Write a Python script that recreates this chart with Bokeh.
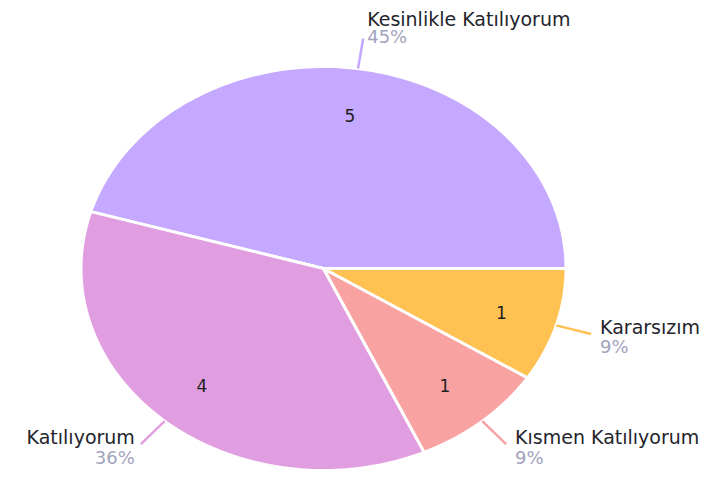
import numpy as np
from bokeh.plotting import figure
from bokeh.models import ColumnDataSource
from bokeh.core.properties import value
from bokeh.embed import file_html
from bokeh.resources import INLINE

categories = ["Kesinlikle Katılıyorum", "Katılıyorum", "Kısmen Katılıyorum", "Kararsızım"]
counts = [5, 4, 1, 1]
percent_labels = ["45%", "36%", "9%", "9%"]
colors = ["#c5a8ff", "#e09ee1", "#f8a2a2", "#ffc151"]

W, H = 704, 471
cx, cy = 323.0, 203.0
rx, ry = 242.5, 202.0
FONT = "DejaVu Sans"

p = figure(width=W, height=H, x_range=(0, W), y_range=(0, H),
           output_backend="svg", toolbar_location=None, min_border=0)
p.axis.visible = False
p.grid.visible = False
p.outline_line_color = None
p.background_fill_color = "white"

total = sum(counts)
fr = np.cumsum([0] + counts) / total
starts = 2 * np.pi * fr[:-1]
ends = 2 * np.pi * fr[1:]
mids = (starts + ends) / 2

xs, ys = [], []
for a0, a1 in zip(starts, ends):
    t = np.linspace(a0, a1, 120)
    xs.append(np.concatenate([[cx], cx + rx * np.cos(t)]).tolist())
    ys.append(np.concatenate([[cy], cy + ry * np.sin(t)]).tolist())
p.patches(xs, ys, fill_color=colors, line_color="white", line_width=3)

# inner value labels
f_in = 0.765
p.text(x=(cx + f_in * rx * np.cos(mids)).tolist(), y=(cy + f_in * ry * np.sin(mids)).tolist(),
       text=[str(c) for c in counts], text_align="center", text_baseline="middle",
       text_font=value(FONT), text_font_size="17px", text_color="#1e1e1e")

# leader lines
r0, r1 = 1.0, 1.15
lx = [[cx + r0 * rx * np.cos(m), cx + r1 * rx * np.cos(m)] for m in mids]
ly = [[cy + r0 * ry * np.sin(m), cy + r1 * ry * np.sin(m)] for m in mids]
p.multi_line(lx, ly, line_color=colors, line_width=2.5)

ex = [cx + r1 * rx * np.cos(m) for m in mids]
ey = [cy + r1 * ry * np.sin(m) for m in mids]
aligns, xo, yo_n, yo_p = [], [], [], []
for m in mids:
    c, s = np.cos(m), np.sin(m)
    if s > 0.9:
        aligns.append("left"); xo.append(4); yo_n.append(-20); yo_p.append(-2)
    elif c >= 0:
        aligns.append("left"); xo.append(9); yo_n.append(-7); yo_p.append(13)
    else:
        aligns.append("right"); xo.append(-6); yo_n.append(-7); yo_p.append(13)

src = ColumnDataSource(dict(x=ex, y=ey, name=categories, pct=percent_labels,
                            align=aligns, xo=xo, yn=yo_n, yp=yo_p))
p.text(x="x", y="y", text="name", source=src, text_align="align", text_baseline="middle",
       x_offset="xo", y_offset="yn", text_font=value(FONT), text_font_size="19px",
       text_color="#24242c")
p.text(x="x", y="y", text="pct", source=src, text_align="align", text_baseline="middle",
       x_offset="xo", y_offset="yp", text_font=value(FONT), text_font_size="18px",
       text_color="#a2a2bd")

open("out.html", "w").write(file_html(p, INLINE))
